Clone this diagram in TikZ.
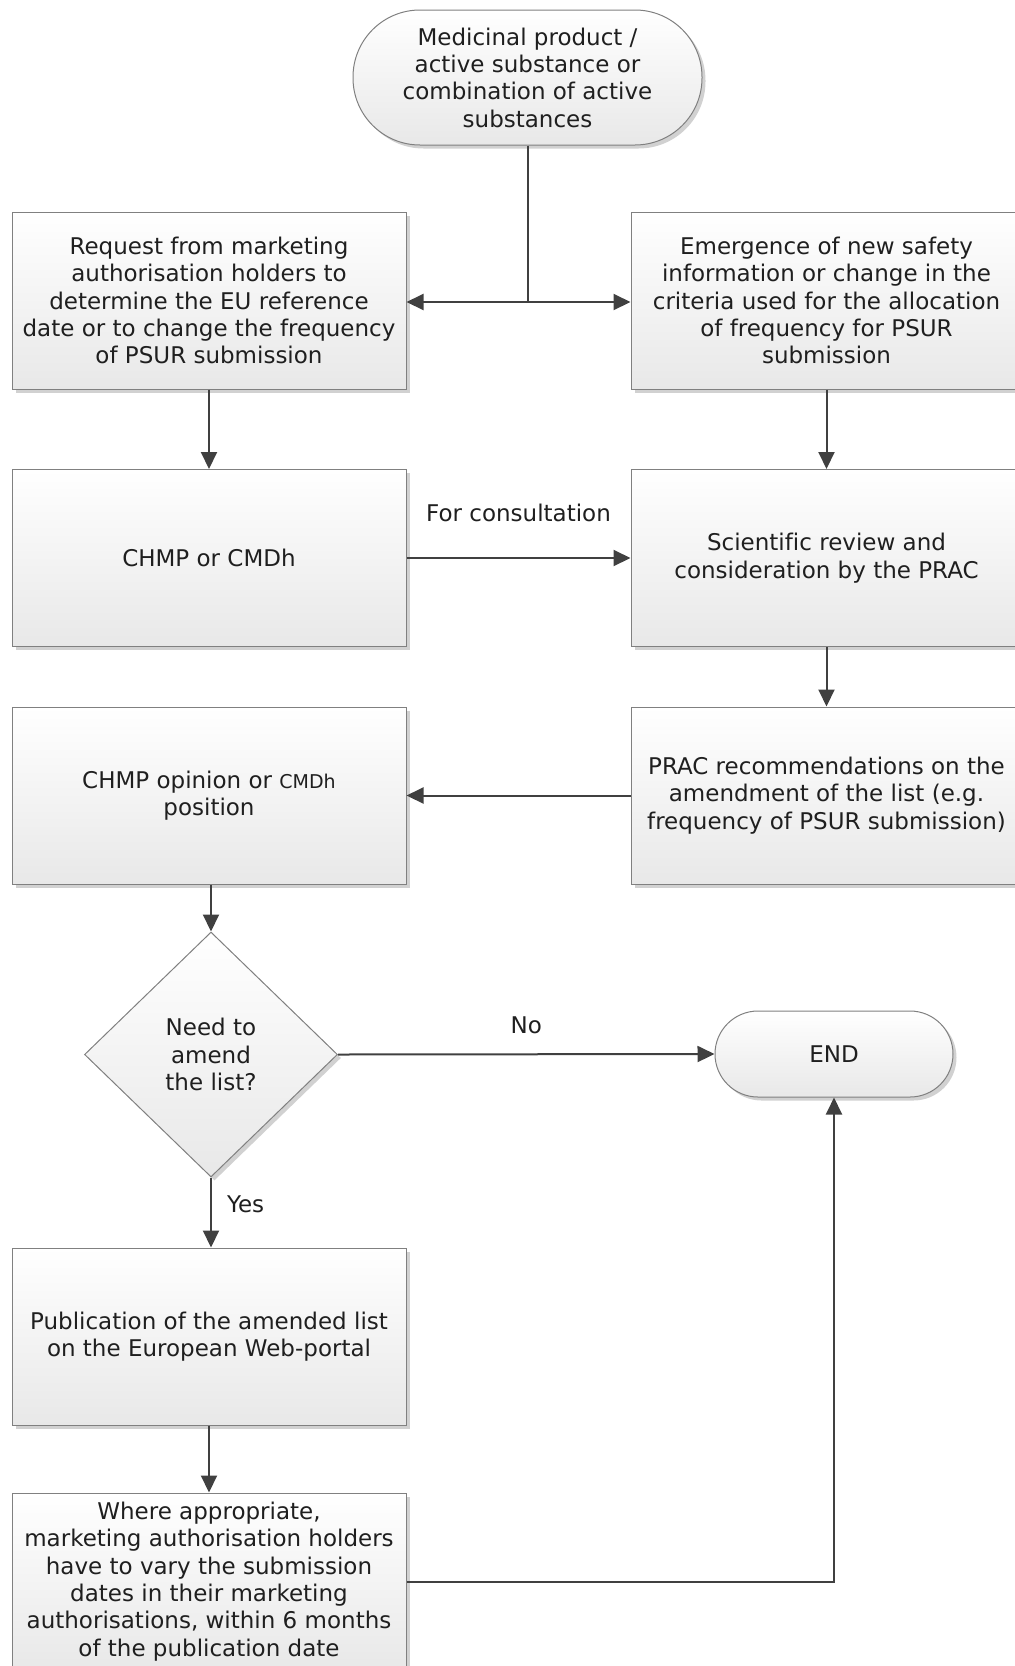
\documentclass[tikz,border=0pt]{standalone}
\usepackage{fontspec}
\setmainfont[Ligatures=NoCommon]{DejaVu Sans}
\usetikzlibrary{arrows.meta,shapes.geometric,calc}
\begin{document}
\begin{tikzpicture}[x=1pt,y=-1pt,
  every node/.style={font=\fontsize{23}{27.3}\selectfont, text=black!88},
  boxbase/.style={draw=black!50, line width=1pt, top color=white, bottom color=black!9,
    preaction={fill=black!18, transform canvas={xshift=3.5pt,yshift=-3.5pt}},
    align=center, inner sep=0pt},
  procbox/.style={boxbase, rectangle, minimum width=394pt, minimum height=177pt},
  rprocbox/.style={boxbase, rectangle, minimum width=391pt, minimum height=177pt},
  termbox/.style={boxbase, rectangle, rounded corners=#1},
  decbox/.style={boxbase, diamond, minimum width=253pt, minimum height=245pt},
  conn/.style={draw=black!75, line width=2pt, -{Triangle[length=17pt,width=16pt]}},
  connplain/.style={draw=black!75, line width=2pt},
  lbl/.style={inner sep=1pt}]
\useasboundingbox (0,0) rectangle (1015,1666);

\node[termbox=67pt, minimum width=349pt, minimum height=135pt] (start) at (527.5,77.5)
  {Medicinal product /\\ active substance or\\ combination of active\\ substances};

\node[procbox] (req) at (209,300.5)
  {Request from marketing\\ authorisation holders to\\ determine the EU reference\\ date or to change the frequency\\ of PSUR submission};
\node[rprocbox] (emerg) at (826.5,300.5)
  {Emergence of new safety\\ information or change in the\\ criteria used for the allocation\\ of frequency for PSUR\\ submission};

\node[procbox] (chmp) at (209,558) {CHMP or CMDh};
\node[rprocbox] (sci) at (826.5,558) {Scientific review and\\ consideration by the PRAC};

\node[procbox] (op) at (209,795.5) {CHMP opinion or {\fontsize{19}{27.3}\selectfont CMDh}\\ position};
\node[rprocbox] (prac) at (826.5,795.5)
  {PRAC recommendations on the\\ amendment of the list (e.g.\\ frequency of PSUR submission)};

\node[decbox] (dia) at (211,1054.5) {Need to\\ amend\\ the list?};
\node[termbox=43pt, minimum width=238pt, minimum height=86pt] (end) at (834,1054) {END};

\node[procbox] (pub) at (209,1336.5) {Publication of the amended list\\ on the European Web-portal};
\node[procbox] (last) at (209,1581.5)
  {Where appropriate,\\ marketing authorisation holders\\ have to vary the submission\\ dates in their marketing\\ authorisations, within 6 months\\ of the publication date};

\coordinate (j) at ($(start.south |- req.east)+(0,1.5)$);
\draw[connplain] (start.south) -- (j);
\draw[conn] (j) -- (j -| req.east);
\draw[conn] (j) -- (j -| emerg.west);
\draw[conn] (req) -- (chmp);
\draw[conn] (emerg) -- (sci);
\draw[conn] (chmp) -- node[lbl, midway, yshift=45pt] {For consultation} (sci);
\draw[conn] (sci) -- (prac);
\draw[conn] (prac) -- (op);
\draw[conn] (op.south -| dia.north) -- (dia.north);
\draw[conn] (dia.east) -- node[lbl, midway, yshift=29pt] {No} (end.west);
\draw[conn] (dia.south) -- node[lbl, pos=0.38, anchor=west, xshift=14pt] {Yes} (pub.north -| dia.south);
\draw[conn] (pub) -- (last);
\draw[conn] (last.east) -| (end.south);
\end{tikzpicture}
\end{document}
